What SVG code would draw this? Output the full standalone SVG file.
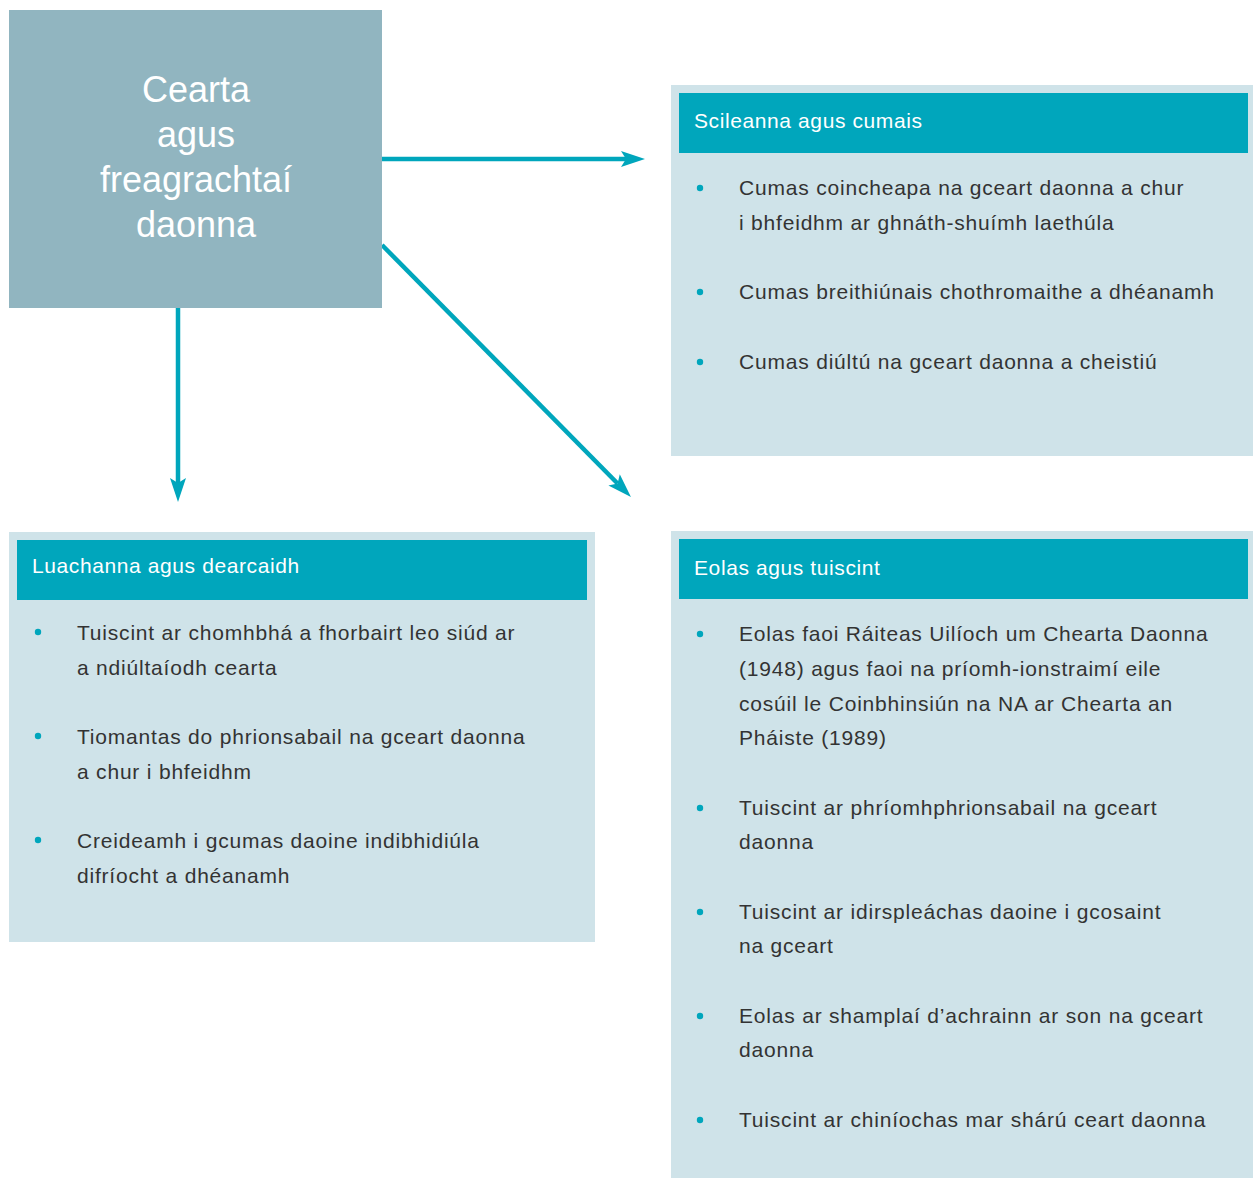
<svg xmlns="http://www.w3.org/2000/svg" width="1253" height="1178" viewBox="0 0 1253 1178">
<defs>
<style>
.panel{fill:#cfe3e9}
.head{fill:#00a6bc}
.htxt{font-family:"Liberation Sans",Arial,sans-serif;font-size:21px;fill:#ffffff;letter-spacing:0.6px}
.btxt{font-family:"Liberation Sans",Arial,sans-serif;font-size:21px;fill:#333333;letter-spacing:0.8px}
.dot{fill:#00a6bc}
.title{font-family:"Liberation Sans",Arial,sans-serif;font-size:36px;fill:#ffffff;text-anchor:middle}
.conn{stroke:#00a6bc;stroke-width:4.5;fill:none}
</style>
<marker id="ah" markerUnits="userSpaceOnUse" viewBox="0 0 25 18" markerWidth="25" markerHeight="18" refX="5" refY="9" orient="auto" overflow="visible">
<path d="M0,1 L24,9 L0,17 L5,9 z" fill="#00a6bc"/>
</marker>
</defs>
<rect width="1253" height="1178" fill="#ffffff"/>

<g id="connectors">
<line class="conn" x1="382" y1="159" x2="626" y2="159" marker-end="url(#ah)"/>
<line class="conn" x1="178" y1="308" x2="178" y2="483" marker-end="url(#ah)"/>
<line class="conn" x1="382" y1="245" x2="617.6" y2="483.5" marker-end="url(#ah)"/>
</g>

<g id="title">
<rect x="9" y="10" width="373" height="298" fill="#91b5c0"/>
<text class="title" x="196" y="102">Cearta</text>
<text class="title" x="196" y="147">agus</text>
<text class="title" x="196" y="192">freagrachtaí</text>
<text class="title" x="196" y="237">daonna</text>
</g>

<g id="skills">
<rect class="panel" x="671" y="85" width="582" height="371"/>
<rect class="head" x="679" y="93" width="569" height="60"/>
<text class="htxt" x="694" y="128">Scileanna agus cumais</text>
<circle class="dot" cx="700" cy="188" r="3.2"/>
<text class="btxt" x="739" y="195">Cumas coincheapa na gceart daonna a chur</text>
<text class="btxt" x="739" y="230">i bhfeidhm ar ghnáth-shuímh laethúla</text>
<circle class="dot" cx="700" cy="292" r="3.2"/>
<text class="btxt" x="739" y="299">Cumas breithiúnais chothromaithe a dhéanamh</text>
<circle class="dot" cx="700" cy="362" r="3.2"/>
<text class="btxt" x="739" y="369">Cumas diúltú na gceart daonna a cheistiú</text>
</g>

<g id="values">
<rect class="panel" x="9" y="532" width="586" height="410"/>
<rect class="head" x="17" y="540" width="570" height="60"/>
<text class="htxt" x="32" y="573">Luachanna agus dearcaidh</text>
<circle class="dot" cx="38" cy="632" r="3.2"/>
<text class="btxt" x="77" y="640">Tuiscint ar chomhbhá a fhorbairt leo siúd ar</text>
<text class="btxt" x="77" y="675">a ndiúltaíodh cearta</text>
<circle class="dot" cx="38" cy="736" r="3.2"/>
<text class="btxt" x="77" y="744">Tiomantas do phrionsabail na gceart daonna</text>
<text class="btxt" x="77" y="779">a chur i bhfeidhm</text>
<circle class="dot" cx="38" cy="840" r="3.2"/>
<text class="btxt" x="77" y="848">Creideamh i gcumas daoine indibhidiúla</text>
<text class="btxt" x="77" y="883">difríocht a dhéanamh</text>
</g>

<g id="knowledge">
<rect class="panel" x="671" y="531" width="582" height="647"/>
<rect class="head" x="679" y="539" width="569" height="60"/>
<text class="htxt" x="694" y="575">Eolas agus tuiscint</text>
<circle class="dot" cx="700" cy="634" r="3.2"/>
<text class="btxt" x="739" y="641">Eolas faoi Ráiteas Uilíoch um Chearta Daonna</text>
<text class="btxt" x="739" y="676">(1948) agus faoi na príomh-ionstraimí eile</text>
<text class="btxt" x="739" y="711">cosúil le Coinbhinsiún na NA ar Chearta an</text>
<text class="btxt" x="739" y="745">Pháiste (1989)</text>
<circle class="dot" cx="700" cy="808" r="3.2"/>
<text class="btxt" x="739" y="815">Tuiscint ar phríomhphrionsabail na gceart</text>
<text class="btxt" x="739" y="849">daonna</text>
<circle class="dot" cx="700" cy="912" r="3.2"/>
<text class="btxt" x="739" y="919">Tuiscint ar idirspleáchas daoine i gcosaint</text>
<text class="btxt" x="739" y="953">na gceart</text>
<circle class="dot" cx="700" cy="1016" r="3.2"/>
<text class="btxt" x="739" y="1023">Eolas ar shamplaí d’achrainn ar son na gceart</text>
<text class="btxt" x="739" y="1057">daonna</text>
<circle class="dot" cx="700" cy="1120" r="3.2"/>
<text class="btxt" x="739" y="1127">Tuiscint ar chiníochas mar shárú ceart daonna</text>
</g>
</svg>
